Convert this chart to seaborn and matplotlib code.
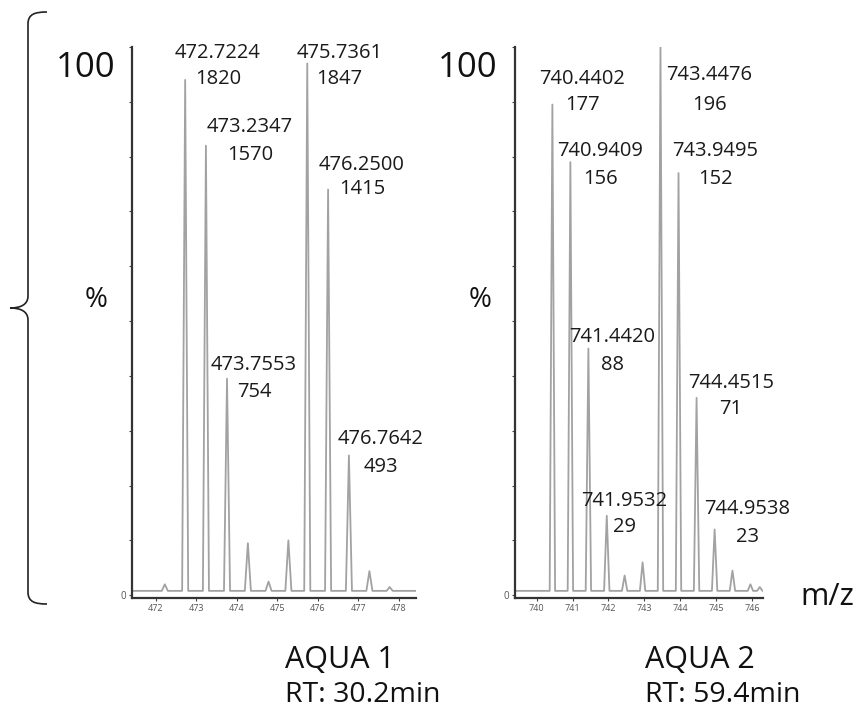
import matplotlib
matplotlib.use("Agg")
import matplotlib.pyplot as plt
import seaborn as sns
import pandas as pd
from matplotlib.path import Path
from matplotlib.patches import PathPatch

# ---------------- data ----------------
aqua1_mz = [472.22, 472.7224, 473.2347, 473.7553, 474.27, 474.78, 475.27,
            475.7361, 476.2500, 476.7642, 477.27, 477.77]
aqua1_int = [2.0, 94.0, 82.0, 39.5, 9.5, 2.5, 10.0, 97.0, 74.0, 25.5, 4.4, 1.5]

aqua2_mz = [740.4402, 740.9409, 741.4420, 741.9532, 742.45, 742.95, 743.4476,
            743.9495, 744.4515, 744.9538, 745.45, 745.95, 746.21]
aqua2_int = [89.5, 79.0, 45.0, 14.5, 3.6, 6.0, 100.0, 77.0, 36.0, 12.0, 4.5, 2.0, 1.5]

aqua1_label_mz = ["472.7224", "473.2347", "473.7553", "475.7361", "476.2500", "476.7642"]
aqua1_label_cnt = ["1820", "1570", "754", "1847", "1415", "493"]
aqua2_label_mz = ["740.4402", "743.4476", "740.9409", "743.9495", "741.4420",
                  "744.4515", "741.9532", "744.9538"]
aqua2_label_cnt = ["177", "196", "156", "152", "88", "71", "29", "23"]

aqua1_xticks = [472, 473, 474, 475, 476, 477, 478]
aqua2_xticks = [740, 741, 742, 743, 744, 745, 746]
yticks = [0, 10, 20, 30, 40, 50, 60, 70, 80, 90, 100]

panel_titles = ["AQUA 1", "AQUA 2"]
panel_rt = ["RT: 30.2min", "RT: 59.4min"]

# ---------------- layout (pixels) ----------------
W, H = 857, 711
aqua1_label_pos = [(218, 50, 76), (250, 125, 152), (254, 362, 390),
                   (339.5, 50, 76), (362, 163, 187), (380.5, 437, 465)]
aqua2_label_pos = [(582.5, 77, 103), (709.5, 73, 102), (600.5, 148, 177),
                   (715, 148, 177), (612, 335, 362), (731, 380, 407),
                   (624, 498, 525), (747.5, 507, 535)]

sns.set_style("ticks")
plt.rcParams["font.family"] = ["Open Sans", "DejaVu Sans"]

fig = plt.figure(figsize=(W / 100, H / 100), dpi=100)


def fx(px):
    return px / W


def fy(py):
    return 1 - py / H


def profile(mz, inten, lo, hi, w=0.075, base=0.8):
    xs, ys = [lo], [base]
    for m, h in zip(mz, inten):
        xs += [m - w, m, m + w]
        ys += [base, h, base]
    xs.append(hi)
    ys.append(base)
    return pd.DataFrame({"m/z": xs, "intensity": ys})


def make_panel(rect, mz, inten, xlim, xticks):
    ax = fig.add_axes(rect)
    df = profile(mz, inten, xlim[0], xlim[1])
    sns.lineplot(data=df, x="m/z", y="intensity", sort=False, estimator=None,
                 ax=ax, color="#a2a2a2", lw=1.3)
    ax.set_xlim(*xlim)
    ax.set_ylim(-0.5, 100)
    ax.set_xlabel("")
    ax.set_ylabel("")
    ax.set_xticks(xticks)
    ax.set_xticklabels([str(t) for t in xticks], fontsize=6.5, color="#555555")
    ax.set_yticks(yticks)
    ax.set_yticklabels(["0"] + [""] * (len(yticks) - 1), fontsize=7, color="#555555")
    ax.tick_params(length=2.5, width=0.8, color="#444444", pad=2)
    sns.despine(ax=ax)
    for s in ("left", "bottom"):
        ax.spines[s].set_color("#333333")
        ax.spines[s].set_linewidth(1.6)
    ax.patch.set_alpha(0)
    return ax


ax1 = make_panel([fx(132), fy(598), fx(416) - fx(132), (598 - 47) / H],
                 aqua1_mz, aqua1_int, (471.41, 478.42), aqua1_xticks)
ax2 = make_panel([fx(515), fy(598), fx(763) - fx(515), (598 - 47) / H],
                 aqua2_mz, aqua2_int, (739.40, 746.30), aqua2_xticks)

# peak annotations
for labels, cnts, pos in ((aqua1_label_mz, aqua1_label_cnt, aqua1_label_pos),
                          (aqua2_label_mz, aqua2_label_cnt, aqua2_label_pos)):
    for m, c, (cx, y1, y2) in zip(labels, cnts, pos):
        fig.text(fx(cx), fy(y1 + 7.5), m, ha="center", va="baseline",
                 fontsize=14.5, color="#1a1a1a")
        fig.text(fx(cx), fy(y2 + 7.5), c, ha="center", va="baseline",
                 fontsize=14.5, color="#1a1a1a")

# axis captions
for x in (86, 468):
    fig.text(fx(x), fy(77), "100", ha="center", va="baseline", fontsize=25,
             color="#111111")
for x in (96, 480):
    fig.text(fx(x), fy(307), "%", ha="center", va="baseline", fontsize=20, color="#111111")
fig.text(fx(800), fy(605), "m/z", ha="left", va="baseline", fontsize=22, color="#111111")

for x, t, rt in zip((285, 645), panel_titles, panel_rt):
    fig.text(fx(x), fy(668), t, ha="left", va="baseline", fontsize=22, color="#111111")
    fig.text(fx(x), fy(702), rt, ha="left", va="baseline", fontsize=20.5, color="#111111")

# curly brace on the left
pts = [(47, 12), (35, 12), (28, 14), (28, 24),
       (28, 296),
       (28, 305), (20, 308), (10, 308),
       (20, 308), (28, 311), (28, 320),
       (28, 592),
       (28, 602), (35, 604), (47, 604)]
codes = [Path.MOVETO, Path.CURVE4, Path.CURVE4, Path.CURVE4,
         Path.LINETO,
         Path.CURVE4, Path.CURVE4, Path.CURVE4,
         Path.CURVE4, Path.CURVE4, Path.CURVE4,
         Path.LINETO,
         Path.CURVE4, Path.CURVE4, Path.CURVE4]
brace = Path([(fx(x), fy(y)) for x, y in pts], codes)
fig.patches.append(PathPatch(brace, transform=fig.transFigure, fill=False,
                             edgecolor="#222222", lw=1.2))

fig.savefig("out.png", dpi=100)
